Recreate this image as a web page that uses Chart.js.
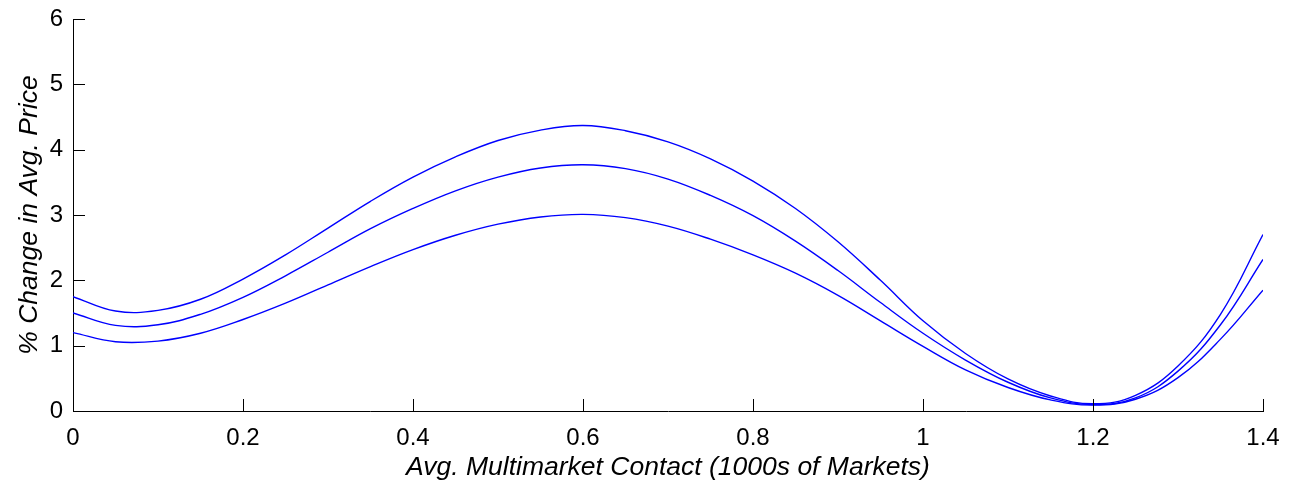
<!DOCTYPE html>
<html>
<head>
<meta charset="utf-8">
<script src="https://cdn.jsdelivr.net/npm/chart.js@4"></script>
<style>
    html, body { margin: 0; padding: 0; background: #fff; }
    #wrap { width: 1297px; height: 486px; }
</style>
</head>
<body>
<div id="wrap"><canvas id="priceChart"></canvas></div>
<script>
// x positions (1000s of markets)
const contact = [0, 0.05, 0.1, 0.15, 0.2, 0.25, 0.3, 0.35, 0.4, 0.45, 0.5, 0.55, 0.6, 0.65, 0.7,
    0.75, 0.8, 0.85, 0.9, 0.95, 1.0, 1.05, 1.1, 1.15, 1.2, 1.25, 1.3, 1.35, 1.4];
// % change in avg. price, three curves
const upperCurve = [1.75, 1.53, 1.54, 1.71, 2.02, 2.39, 2.80, 3.21, 3.58, 3.89, 4.14, 4.30, 4.37, 4.29, 4.12,
    3.86, 3.52, 3.10, 2.59, 2.00, 1.38, 0.88, 0.49, 0.23, 0.11, 0.24, 0.69, 1.48, 2.70];
const middleCurve = [1.50, 1.31, 1.32, 1.48, 1.74, 2.07, 2.43, 2.79, 3.10, 3.37, 3.58, 3.72, 3.77, 3.71, 3.55,
    3.30, 2.99, 2.60, 2.15, 1.66, 1.19, 0.78, 0.44, 0.20, 0.10, 0.20, 0.61, 1.32, 2.32];
const lowerCurve = [1.20, 1.06, 1.07, 1.19, 1.40, 1.65, 1.93, 2.21, 2.47, 2.69, 2.86, 2.97, 3.01, 2.96, 2.83,
    2.63, 2.39, 2.11, 1.77, 1.38, 0.99, 0.63, 0.36, 0.17, 0.09, 0.18, 0.51, 1.10, 1.85];
const xTicks = [0, 0.2, 0.4, 0.6, 0.8, 1, 1.2, 1.4];
const xTickLabels = ["0", "0.2", "0.4", "0.6", "0.8", "1", "1.2", "1.4"];
const yTicks = [0, 1, 2, 3, 4, 5, 6];
const yTickLabels = ["0", "1", "2", "3", "4", "5", "6"];

function toPoints(ys) {
    return contact.map((x, i) => ({ x: x, y: ys[i] }));
}

// matlab style ticks pointing into the plot
const innerTicks = {
    id: "innerTicks",
    afterDraw(chart) {
        const ctx = chart.ctx;
        const area = chart.chartArea;
        const len = 12;
        ctx.save();
        ctx.strokeStyle = "#000";
        ctx.lineWidth = 1;
        ctx.beginPath();
        chart.scales.x.ticks.forEach(t => {
            const px = Math.round(chart.scales.x.getPixelForValue(t.value)) + 0.5;
            ctx.moveTo(px, area.bottom);
            ctx.lineTo(px, area.bottom - len);
        });
        chart.scales.y.ticks.forEach(t => {
            const py = Math.round(chart.scales.y.getPixelForValue(t.value)) + 0.5;
            ctx.moveTo(area.left, py);
            ctx.lineTo(area.left + len, py);
        });
        ctx.stroke();
        ctx.restore();
    }
};

document.addEventListener("DOMContentLoaded", function () {
    const ctx = document.getElementById("priceChart");
    const lineStyle = {
        borderColor: "#0000ff",
        borderWidth: 1.4,
        pointRadius: 0,
        fill: false,
        tension: 0.4
    };
    const family = "'Liberation Sans', Arial, sans-serif";
    const tickFont = { family: family, size: 24 };
    const titleFont = { family: family, size: 26.5, style: "italic" };
    const config = {
        type: "line",
        data: {
            datasets: [
                Object.assign({ label: "upper", data: toPoints(upperCurve) }, lineStyle),
                Object.assign({ label: "middle", data: toPoints(middleCurve) }, lineStyle),
                Object.assign({ label: "lower", data: toPoints(lowerCurve) }, lineStyle),
            ],
        },
        options: {
            responsive: true,
            maintainAspectRatio: false,
            animation: false,
            layout: { padding: { left: 14, right: 34, top: 19, bottom: 0 } },
            plugins: {
                legend: { display: false },
                tooltip: { enabled: false },
            },
            scales: {
                x: {
                    type: "linear",
                    min: 0,
                    max: 1.4,
                    afterBuildTicks: s => { s.ticks = xTicks.map(v => ({ value: v })); },
                    afterFit: s => { s.height = 75; },
                    grid: { drawOnChartArea: false, drawTicks: false },
                    border: { display: true, color: "#000", width: 1 },
                    ticks: {
                        color: "#000",
                        font: tickFont,
                        padding: 13,
                        maxRotation: 0,
                        callback: (v) => xTickLabels[xTicks.indexOf(v)],
                    },
                    title: {
                        display: true,
                        text: "Avg. Multimarket Contact (1000s of Markets)",
                        color: "#000",
                        font: titleFont,
                        padding: { top: 0, bottom: 2 },
                    },
                },
                y: {
                    min: 0,
                    max: 6,
                    afterBuildTicks: s => { s.ticks = yTicks.map(v => ({ value: v })); },
                    afterFit: s => {
                        s.width = 59;
                        s.paddingTop = 0;
                        s.paddingBottom = 0;
                    },
                    grid: { drawOnChartArea: false, drawTicks: false },
                    border: { display: true, color: "#000", width: 1 },
                    ticks: {
                        color: "#000",
                        font: tickFont,
                        padding: 10,
                        callback: (v) => yTickLabels[yTicks.indexOf(v)],
                    },
                    title: {
                        display: true,
                        text: "% Change in Avg. Price",
                        color: "#000",
                        font: titleFont,
                        padding: { top: 0, bottom: 8 },
                    },
                },
            },
        },
        plugins: [innerTicks],
    };
    new Chart(ctx, config);
});
</script>
</body>
</html>
